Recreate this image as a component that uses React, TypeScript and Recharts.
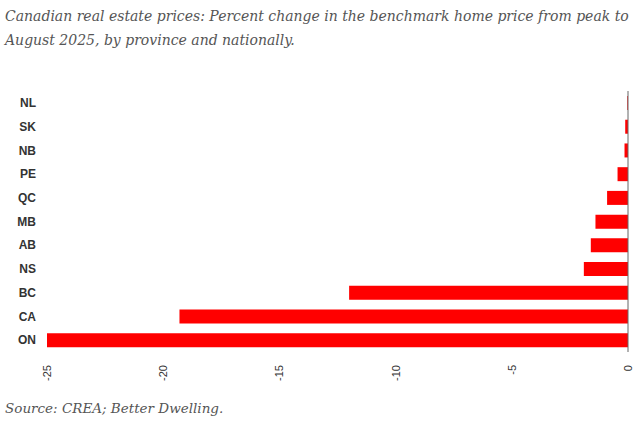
import React from "react";
import { BarChart, Bar, XAxis, YAxis, ReferenceLine } from "recharts";

const regions = ["NL", "SK", "NB", "PE", "QC", "MB", "AB", "NS", "BC", "CA", "ON"];
const changes = [-0.03, -0.12, -0.15, -0.45, -0.9, -1.4, -1.6, -1.9, -12.0, -19.3, -25.0];
const xTicks = [-25, -20, -15, -10, -5, 0];

const data = regions.map((r, i) => ({ name: r, value: changes[i] }));

const XTick = (props: any) => {
  const { x, y, payload } = props;
  return (
    <text
      x={x}
      y={y}
      transform={`rotate(-90, ${x}, ${y})`}
      textAnchor="end"
      dominantBaseline="central"
      fontFamily="Liberation Sans, Arial, sans-serif"
      fontSize={11}
      fill="#333"
    >
      {payload.value}
    </text>
  );
};

export default function App() {
  return (
    <div style={{ position: "absolute", top: 0, left: 0, width: 640, height: 422, background: "#fff" }}>
      <div
        style={{
          position: "absolute",
          top: 4,
          left: 5,
          width: 635,
          fontFamily: "DejaVu Serif, serif",
          fontStyle: "italic",
          fontSize: 14,
          lineHeight: "24px",
          color: "#555",
        }}
      >
        Canadian real estate prices: Percent change in the benchmark home price from peak to August 2025, by province and nationally.
      </div>
      <div style={{ position: "absolute", top: 0, left: 0 }}>
        <BarChart
          width={640}
          height={422}
          data={data}
          layout="vertical"
          margin={{ top: 91, right: 12, left: 0, bottom: 30 }}
          barCategoryGap={5}
        >
          <XAxis
            type="number"
            domain={[-25, 0]}
            ticks={xTicks}
            axisLine={false}
            tickLine={false}
            tick={<XTick />}
            tickMargin={7}
            height={40}
            interval={0}
          />
          <YAxis
            type="category"
            dataKey="name"
            width={47}
            axisLine={false}
            tickLine={false}
            tickMargin={5}
            tick={{ fontFamily: "Liberation Sans, Arial, sans-serif", fontSize: 12, fontWeight: "bold", fill: "#333" }}
            interval={0}
          />
          <Bar dataKey="value" fill="#ff0000" barSize={14} isAnimationActive={false} />
          <ReferenceLine x={0} stroke="#666" strokeWidth={1} />
        </BarChart>
      </div>
      <div
        style={{
          position: "absolute",
          top: 400,
          left: 5,
          fontFamily: "DejaVu Serif, serif",
          fontStyle: "italic",
          fontSize: 13.5,
          color: "#555",
        }}
      >
        Source: CREA; Better Dwelling.
      </div>
    </div>
  );
}
